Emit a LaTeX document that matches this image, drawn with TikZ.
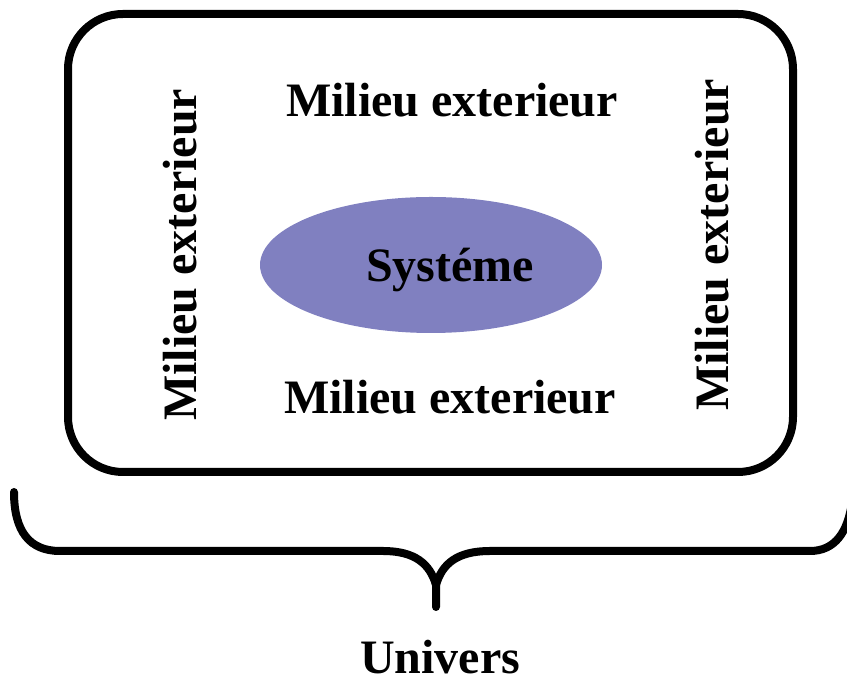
\documentclass[tikz,border=0pt]{standalone}
\usepackage{fontspec}
\setmainfont{Liberation Serif}
\usetikzlibrary{shapes.geometric}
\definecolor{sysfill}{RGB}{128,128,192}
\begin{document}
\begin{tikzpicture}[x=1pt,y=1pt,
  lbl/.style={font=\fontsize{48}{56}\selectfont\bfseries, inner sep=0pt},
  frame/.style={draw=black, line width=8pt, rounded corners=55pt},
  bracepath/.style={draw=black, line width=8pt, line join=round, line cap=round}]
\useasboundingbox (0,0) rectangle (847,682);
\begin{scope}
\clip (0,0) rectangle (847,682);
\draw[frame] (68,668) rectangle (793,210);
\node[ellipse, fill=sysfill, minimum width=342pt, minimum height=136pt, inner sep=0pt] (sys) at (431,417) {};
\node[lbl] (systeme) at (450,412) {Systéme};
\node[lbl] (top) at (452,582) {Milieu exterieur};
\node[lbl] (bottom) at (450,285) {Milieu exterieur};
\node[lbl, rotate=90] (left) at (180,427) {Milieu exterieur};
\node[lbl, rotate=90] (right) at (712,437) {Milieu exterieur};
\coordinate (tip) at (436,97);
\draw[bracepath] (14,190) .. controls (14,150) and (30,131) .. (60,131) -- (383,131) .. controls (415,131) and (430,118) .. (tip) -- (436,75);
\draw[bracepath] (tip) .. controls (442,118) and (457,131) .. (490,131) -- (810,131) .. controls (835,131) and (848,150) .. (852,180);
\node[lbl] (univers) at (440,25) {Univers};
\end{scope}
\end{tikzpicture}
\end{document}
